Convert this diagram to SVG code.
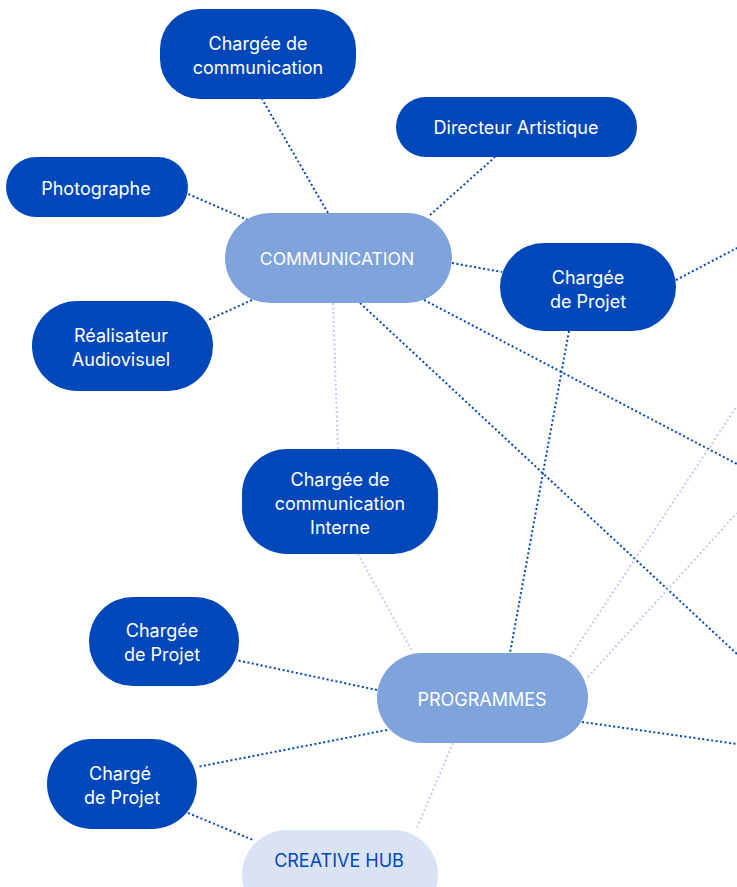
<svg xmlns="http://www.w3.org/2000/svg" width="737" height="887" viewBox="0 0 737 887">
<style>
.dark rect{fill:#0048BA}
.mid rect{fill:#7FA3DB}
.light rect{fill:#D9E3F5}
text{font-family:Inter,"Liberation Sans",sans-serif;font-size:18px;text-anchor:middle;fill:#FFFFFF}
.light text{fill:#0048BA}
.e{stroke:#0048BA;stroke-width:2;stroke-dasharray:2 2.5;fill:none}
.l{stroke:#C3CCEE;stroke-width:2;stroke-dasharray:2 2.5;fill:none}
</style>
<rect width="737" height="887" fill="#FFFFFF"/>
<g id="connectors">
<line class="e" x1="328" y1="213" x2="262" y2="99"/>
<line class="e" x1="430" y1="215" x2="495" y2="157"/>
<line class="e" x1="248" y1="220" x2="188" y2="194"/>
<line class="e" x1="252" y1="300" x2="208" y2="320"/>
<line class="e" x1="452" y1="263" x2="502" y2="272"/>
<line class="e" x1="676" y1="280" x2="737" y2="248"/>
<line class="e" x1="424" y1="300" x2="737" y2="464"/>
<line class="e" x1="360" y1="303" x2="737" y2="654"/>
<line class="e" x1="569" y1="331" x2="510" y2="653"/>
<line class="l" x1="333" y1="303" x2="338" y2="449"/>
<line class="l" x1="358" y1="554" x2="413" y2="653"/>
<line class="l" x1="570" y1="657" x2="737" y2="406"/>
<line class="l" x1="588" y1="677" x2="737" y2="513"/>
<line class="e" x1="582" y1="722" x2="737" y2="744"/>
<line class="e" x1="377" y1="690" x2="236" y2="660"/>
<line class="e" x1="387" y1="730" x2="197" y2="767"/>
<line class="e" x1="188" y1="813" x2="253" y2="840"/>
<line class="l" x1="453" y1="743" x2="416" y2="830"/>
</g>
<g id="n-chargee-comm" class="dark"><rect x="160" y="9" width="196" height="90" rx="40"/><text x="258" y="50">Chargée de</text><text x="258" y="74">communication</text></g>
<g id="n-directeur" class="dark"><rect x="396" y="97" width="241" height="60" rx="30"/><text x="516" y="134">Directeur Artistique</text></g>
<g id="n-photographe" class="dark"><rect x="6" y="157" width="182" height="60" rx="30"/><text x="96" y="195">Photographe</text></g>
<g id="n-communication" class="mid"><rect x="225" y="213" width="227" height="90" rx="45"/><text x="337" y="265" style="font-size:17.5px">COMMUNICATION</text></g>
<g id="n-chargee-projet-r" class="dark"><rect x="500" y="243" width="176" height="88" rx="44"/><text x="588" y="284">Chargée</text><text x="588" y="308">de Projet</text></g>
<g id="n-realisateur" class="dark"><rect x="32" y="301" width="181" height="90" rx="45"/><text x="121" y="342">Réalisateur</text><text x="121" y="366">Audiovisuel</text></g>
<g id="n-interne" class="dark"><rect x="242" y="449" width="196" height="105" rx="45"/><text x="340" y="486">Chargée de</text><text x="340" y="510">communication</text><text x="340" y="534">Interne</text></g>
<g id="n-chargee-projet-l" class="dark"><rect x="89" y="597" width="150" height="89" rx="44"/><text x="162" y="637">Chargée</text><text x="162" y="661">de Projet</text></g>
<g id="n-programmes" class="mid"><rect x="377" y="653" width="211" height="90" rx="45"/><text x="482" y="706">PROGRAMMES</text></g>
<g id="n-charge-projet" class="dark"><rect x="47" y="739" width="150" height="90" rx="45"/><text x="120" y="780">Chargé</text><text x="122" y="804">de Projet</text></g>
<g id="n-creative-hub" class="light"><rect x="242" y="830" width="196" height="90" rx="45"/><text x="339" y="867">CREATIVE HUB</text></g>
</svg>
